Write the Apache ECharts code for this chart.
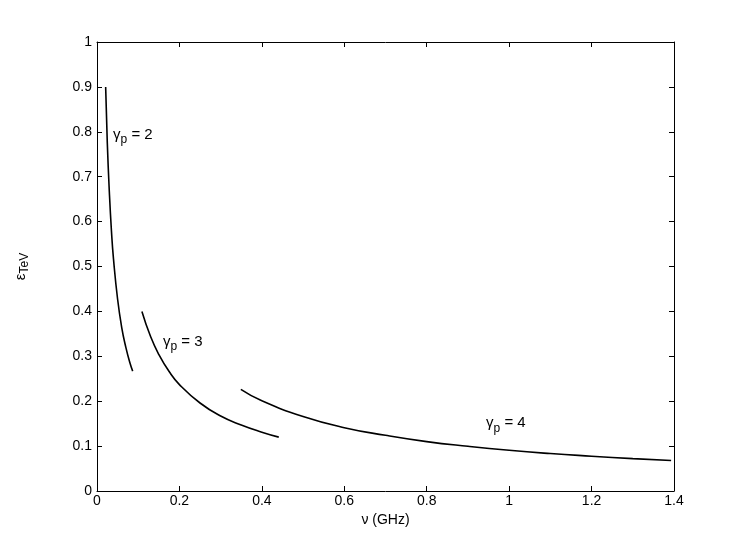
<!DOCTYPE html>
<html><head><meta charset="utf-8">
<script src="https://cdn.jsdelivr.net/npm/echarts@6/dist/echarts.min.js"></script>
<style>html,body{margin:0;padding:0;background:#fff}#c{width:745px;height:553px}</style>
</head><body><div id="c"></div>
<script>
// Curve gamma_p = 2
const nu2 = [0.021, 0.025, 0.030, 0.035, 0.040, 0.050, 0.060, 0.070, 0.080, 0.0866];
const eps2 = [0.900, 0.775, 0.665, 0.580, 0.517, 0.427, 0.364, 0.320, 0.285, 0.267];
// Curve gamma_p = 3
const nu3 = [0.109, 0.130, 0.150, 0.175, 0.200, 0.250, 0.300, 0.350, 0.400, 0.441];
const eps3 = [0.400, 0.344, 0.304, 0.266, 0.237, 0.196, 0.167, 0.147, 0.131, 0.120];
// Curve gamma_p = 4
const nu4 = [0.349, 0.400, 0.500, 0.600, 0.700, 0.800, 0.900, 1.000, 1.100, 1.200, 1.300, 1.393];
const eps4 = [0.2265, 0.201, 0.166, 0.141, 0.124, 0.110, 0.0995, 0.0906, 0.0834, 0.0775, 0.0721, 0.0679];
// Curve labels (gamma_p value, anchor position in data units)
const labelGamma = ['2', '3', '4'];
const labelNu = [0.039, 0.160, 0.944];
const labelEps = [0.793, 0.332, 0.151];

const font = '"Liberation Sans", Arial, Helvetica, sans-serif';
const zip = (a, b) => a.map((v, i) => [v, b[i]]);
const lineSeries = (xs, ys) => ({
  type: 'line', data: zip(xs, ys), smooth: true, showSymbol: false,
  lineStyle: { color: '#000', width: 1.6 }, silent: true
});

const chart = echarts.init(document.getElementById('c'));
const axisCommon = {
  axisLine: { show: true, onZero: false, lineStyle: { color: '#000', width: 1 } },
  axisTick: { show: true, inside: true, length: 5, lineStyle: { color: '#000' } },
  splitLine: { show: false }
};
chart.setOption({
  animation: false,
  backgroundColor: '#fff',
  grid: { left: 97, right: 71, top: 42, bottom: 62, containLabel: false },
  xAxis: [
    Object.assign({}, axisCommon, {
      type: 'value', min: 0, max: 1.4, interval: 0.2, position: 'bottom',
      axisLabel: { color: '#000', fontSize: 14, fontFamily: font, margin: 3,
        formatter: v => (Math.round(v * 10) / 10).toString() },
      name: 'ν (GHz)', nameLocation: 'middle', nameGap: 19,
      nameTextStyle: { color: '#000', fontSize: 14, fontFamily: font }
    }),
    Object.assign({}, axisCommon, {
      type: 'value', min: 0, max: 1.4, interval: 0.2, position: 'top',
      axisLabel: { show: false }
    })
  ],
  yAxis: [
    Object.assign({}, axisCommon, {
      type: 'value', min: 0, max: 1, interval: 0.1, position: 'left',
      axisLabel: { color: '#000', fontSize: 14, fontFamily: font, margin: 5,
        formatter: v => (Math.round(v * 10) / 10).toString() },
      name: '{e|ε}{s|TeV}', nameLocation: 'middle', nameGap: 66, nameRotate: 90,
      nameTextStyle: { color: '#000', fontSize: 14, fontFamily: font,
        rich: { e: { fontSize: 15, fontFamily: font, color: '#000' },
                s: { fontSize: 12, fontFamily: font, color: '#000', verticalAlign: 'bottom', padding: [8, 0, 0, 0] } } }
    }),
    Object.assign({}, axisCommon, {
      type: 'value', min: 0, max: 1, interval: 0.1, position: 'right',
      axisLabel: { show: false }
    })
  ],
  series: [
    lineSeries(nu2, eps2),
    lineSeries(nu3, eps3),
    lineSeries(nu4, eps4),
    {
      type: 'scatter', symbolSize: 0, silent: true,
      itemStyle: { opacity: 1, color: '#000' },
      data: labelGamma.map((g, i) => ({ value: [labelNu[i], labelEps[i]], g: g })),
      label: {
        show: true, position: 'inside', align: 'left', verticalAlign: 'middle',
        color: '#000', opacity: 1, textBorderWidth: 0, fontSize: 15, fontFamily: font,
        formatter: p => '{g|γ}{p|p}{t| = ' + p.data.g + '}',
        rich: {
          g: { fontSize: 15, fontFamily: font, color: '#000', textBorderWidth: 0 },
          p: { fontSize: 12, fontFamily: font, color: '#000', textBorderWidth: 0, padding: [10, 0, 0, 0] },
          t: { fontSize: 15, fontFamily: font, color: '#000', textBorderWidth: 0 }
        }
      }
    }
  ]
});
</script></body></html>
